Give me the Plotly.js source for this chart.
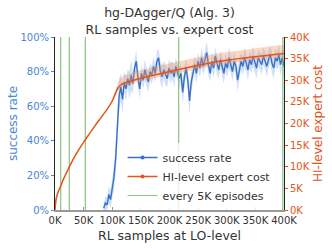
<!DOCTYPE html>
<html><head><meta charset="utf-8">
<script src="https://cdn.plot.ly/plotly-3.0.1.min.js"></script>
<style>html,body{margin:0;padding:0;background:#fff;}#chart{width:332px;height:249px;}</style>
</head><body><div id="chart"></div>
<script>
// RL samples at LO-level (thousands)
const successX = [85,88,91,94,97,100,103,106,109,112,115,118,121,124,127,130,133,136,139,142,145,148,151,154,157,160,163,166,169,172,175,178,181,184,187,190,193,196,199,202,205,208,211,214,217,220,223,226,229,232,235,238,241,244,247,250,253,256,259,262,265,268,271,274,277,280,283,286,289,292,295,298,301,304,307,310,313,316,319,322,325,328,331,334,337,340,343,346,349,352,355,358,361,364,367,370,373,376,379,382,385,388,391,394,397,400];
// success rate (%)
const successRate = [1,4,3,9,6,13,19,30,48,66,71,64,74,70,76,72,78,73,82,86,76,70,79,75,81,77,74,80,78,83,79,86,88,80,77,81,78,76,82,79,81,77,83,80,76,79,68,77,82,75,63,74,80,84,79,86,82,88,83,87,91,84,79,86,82,89,84,81,87,83,79,85,82,88,84,80,86,83,75,82,86,83,88,85,81,87,84,89,85,82,88,86,84,89,86,83,87,90,85,82,88,86,90,84,88,83];
// spread of the shaded band around success rate (%)
const successSpread = [3,4,4,5,5,6,7,9,11,10,8,8,6,7,5,8,9,6,5,6,5,6,5,5,6,5,6,5,5,6,5,6,5,6,7,5,6,5,5,6,5,6,5,5,6,5,7,6,5,6,8,6,5,5,6,5,5,6,5,5,6,6,5,5,6,5,6,5,5,6,6,5,5,6,5,6,5,5,7,6,5,5,6,5,6,5,5,6,5,6,5,5,6,5,5,6,5,5,6,6,5,5,6,6,5,7];

// HI-level expert cost (thousands)
const costX = [0,2,5,10,15,20,30,40,50,60,70,80,90,100,105,110,115,120,140,160,180,200,220,240,260,280,300,320,340,360,380,400];
const cost = [0,2.6,4,5.6,7.2,8.6,11.3,13.6,15.7,17.6,19.5,21.3,23.1,25.2,26.8,28.2,28.9,29.3,30.1,30.8,31.4,32.0,32.6,33.2,33.7,34.2,34.6,35.0,35.3,35.6,35.9,36.2];
const costBandX = [100,105,110,115,120,140,160,180,200,220,240,260,280,300,320,340,360,380,400];
const costBandHi = [25.4,27.6,29.6,30.6,31.1,32.0,32.7,33.3,33.9,34.5,35.1,35.6,36.1,36.5,36.9,37.3,37.6,37.9,38.2];
const costBandLo = [25.0,26.3,27.5,28.3,28.6,29.4,30.1,30.7,31.2,31.8,32.4,32.9,33.4,33.8,34.2,34.5,34.8,35.1,35.4];

// every 5K episodes (thousands of RL samples)
const episodeMarks = [10,25,53,216,398];

const xTicks = [0,50,100,150,200,250,300,350,400];
const xTickText = ['0K','50K','100K','150K','200K','250K','300K','350K','400K'];
const yTicks = [0,20,40,60,80,100];
const yTickText = ['0%','20%','40%','60%','80%','100%'];
const y2Ticks = [0,5,10,15,20,25,30,35,40];
const y2TickText = ['0K','5K','10K','15K','20K','25K','30K','35K','40K'];

const BLUE = '#3a70c4', BLUE_T = '#4a86d4', ORANGE = '#e2561a', GREEN = '#78b86a';

const successHi = successRate.map((v,i)=>Math.min(100, v + successSpread[i]));
const successLo = successRate.map((v,i)=>Math.max(0, v - successSpread[i]));

const gx = [], gy = [];
episodeMarks.forEach(v=>{ gx.push(v,v,null); gy.push(0,40,null); });

const traces = [
  {x: successX, y: successLo, mode:'lines', line:{width:0, color:BLUE}, showlegend:false, hoverinfo:'skip', yaxis:'y'},
  {x: successX, y: successHi, mode:'lines', fill:'tonexty', fillcolor:'rgba(110,160,225,0.32)', line:{width:0, color:BLUE}, showlegend:false, hoverinfo:'skip', yaxis:'y'},
  {x: successX, y: successRate, mode:'lines', line:{width:1.4, color:BLUE}, showlegend:false, yaxis:'y'},
  {x: costBandX, y: costBandLo, mode:'lines', line:{width:0, color:ORANGE}, showlegend:false, hoverinfo:'skip', yaxis:'y2'},
  {x: costBandX, y: costBandHi, mode:'lines', fill:'tonexty', fillcolor:'rgba(240,150,105,0.38)', line:{width:0, color:ORANGE}, showlegend:false, hoverinfo:'skip', yaxis:'y2'},
  {x:[null], y:[null], mode:'lines+markers', line:{width:1.4, color:BLUE}, marker:{size:4, color:BLUE}, name:'success rate', yaxis:'y'},
  {x:[null], y:[null], mode:'lines+markers', line:{width:1.5, color:ORANGE}, marker:{size:4, color:ORANGE}, name:'HI-level expert cost', yaxis:'y2'},
  {x: gx, y: gy, mode:'lines', line:{width:1.2, color:GREEN}, opacity:0.85, name:'every 5K episodes', yaxis:'y2'},
  {x: costX, y: cost, mode:'lines', line:{width:1.5, color:ORANGE, shape:'spline', smoothing:0.6}, showlegend:false, yaxis:'y2'}
];

const FONT = 'DejaVu Sans, sans-serif';
const layout = {
  width:332, height:249,
  margin:{l:55, r:48, t:37, b:39},
  paper_bgcolor:'#fff', plot_bgcolor:'#fff',
  font:{family:FONT, size:10, color:'#333'},
  title:{text:'hg-DAgger/Q (Alg. 3)<br>RL samples vs. expert cost', font:{family:FONT, size:12.5, color:'#333'}, x:0.5, xref:'paper', yref:'container', y:0.93, yanchor:'middle'},
  xaxis:{range:[0,400], tickvals:xTicks, ticktext:xTickText, showgrid:false, zeroline:false,
    showline:true, linecolor:'#999', linewidth:1.5, ticks:'inside', ticklen:3, tickcolor:'#999',
    tickfont:{size:10, color:'#333'}, title:{text:'RL samples at LO-level', font:{size:12.5, color:'#333'}, standoff:6}},
  yaxis:{range:[0,100], tickvals:yTicks, ticktext:yTickText, showgrid:false, zeroline:false,
    showline:true, linecolor:'#222', linewidth:1, ticks:'outside', ticklen:3, tickcolor:BLUE_T,
    tickfont:{size:10, color:BLUE_T}, title:{text:'success rate', font:{size:12, color:BLUE_T}, standoff:0}},
  yaxis2:{range:[0,40], overlaying:'y', side:'right', tickvals:y2Ticks, ticktext:y2TickText, showgrid:false, zeroline:false,
    showline:true, linecolor:'#222', linewidth:1, ticks:'outside', ticklen:3, tickcolor:ORANGE,
    tickfont:{size:10, color:ORANGE}, title:{text:'HI-level expert cost', font:{size:12, color:ORANGE}, standoff:4}},
  legend:{x:0.295, y:0.0, xanchor:'left', yanchor:'bottom', bgcolor:'rgba(255,255,255,0.8)', borderwidth:0,
    font:{size:11, color:'#333'}, traceorder:'normal', tracegroupgap:0, itemwidth:30},
  showlegend:true
};
Plotly.newPlot('chart', traces, layout, {staticPlot:true, displayModeBar:false});
</script></body></html>
